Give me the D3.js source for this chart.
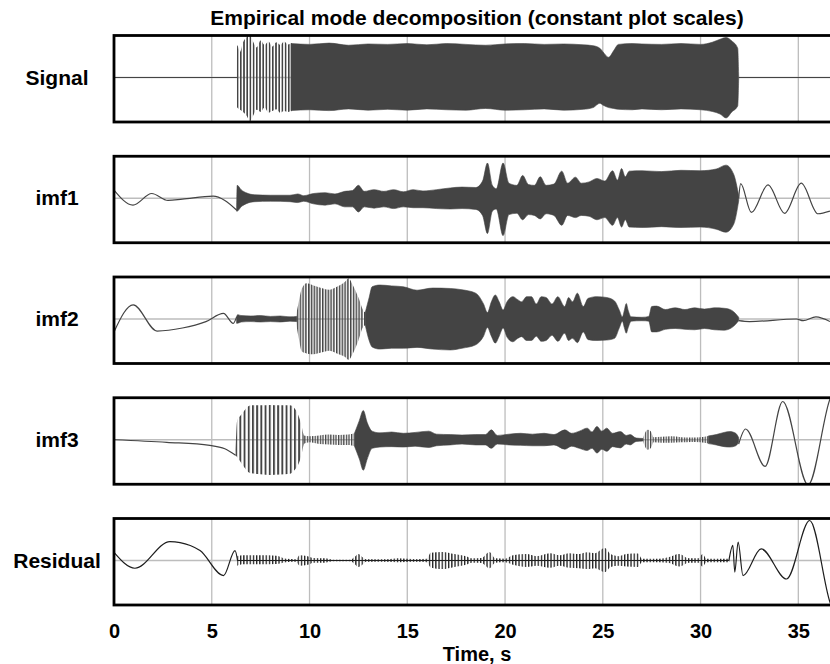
<!DOCTYPE html>
<html>
<head>
<meta charset="utf-8">
<script src="https://cdn.jsdelivr.net/npm/d3@7"></script>
<style>
  body { margin: 0; background: #fff; }
  svg { display: block; font-family: "Liberation Sans", Arial, Helvetica, sans-serif; }
</style>
</head>
<body>
<div class="chart"></div>
<script>
// ---- data (time in s, amplitude on a shared scale, 1 = panel edge) ----
const panelNames = ['Signal', 'imf1', 'imf2', 'imf3', 'Residual']
const timeTicks = [0, 5, 10, 15, 20, 25, 30, 35]

// plain traces: [t, value]
// envelopes of dense oscillation: [t, upper, lower]
const signalFlat1 = [[0, 0], [6.29, 0]]
const signalFlat2 = [[31.95, 0], [36.62, 0]]
const signalOnset = [[6.28, 0.02, -0.02], [6.3, 0.75, -0.7], [6.45, 0.6, -0.75], [6.6, 0.82, -0.8], [6.8, 0.95, -0.9],
  [6.95, 1.02, -1.02], [7.1, 0.85, -0.9], [7.3, 0.7, -0.75], [7.5, 0.86, -0.8], [7.7, 0.76, -0.7], [7.9, 0.84, -0.82],
  [8.1, 0.72, -0.78], [8.3, 0.82, -0.74], [8.5, 0.76, -0.82], [8.7, 0.84, -0.78], [8.9, 0.77, -0.8], [9.1, 0.8, -0.78]]
const signalBody = [[9.05, 0.79, -0.77], [10, 0.77, -0.75], [11, 0.8, -0.77], [12, 0.75, -0.73], [13, 0.78, -0.76],
  [14, 0.77, -0.74], [15, 0.79, -0.76], [16, 0.76, -0.73], [17, 0.79, -0.75], [18, 0.77, -0.76], [19, 0.75, -0.72],
  [20, 0.78, -0.76], [21, 0.79, -0.75], [22, 0.77, -0.73], [23, 0.78, -0.76], [24, 0.76, -0.74], [24.5, 0.74, -0.7],
  [24.85, 0.68, -0.6], [25.0, 0.6, -0.64], [25.3, 0.47, -0.7], [25.55, 0.62, -0.72], [25.8, 0.77, -0.74], [26.5, 0.79, -0.75],
  [27, 0.78, -0.73], [28, 0.77, -0.75], [29, 0.79, -0.73], [30, 0.77, -0.75], [30.6, 0.82, -0.79], [31.0, 0.89, -0.85],
  [31.3, 0.93, -0.94], [31.6, 0.85, -0.8], [31.9, 0.68, -0.66], [31.95, 0.02, -0.02]]

const imf1Lead = [[0, 0.19], [0.97, -0.16], [1.93, 0.11], [2.76, -0.05], [3.5, -0.02], [5.07, 0.05], [5.67, -0.05], [6.28, -0.28]]
const imf1Body = [[6.27, -0.26, -0.3], [6.3, 0.3, -0.3], [6.5, 0.2, -0.2], [6.8, 0.12, -0.12], [7.2, 0.08, -0.08],
  [8, 0.07, -0.07], [9, 0.07, -0.08], [9.4, 0.1, -0.1], [9.7, 0.06, -0.07], [10.2, 0.11, -0.13], [10.8, 0.13, -0.16],
  [11.3, 0.1, -0.13], [11.8, 0.16, -0.2], [12.2, 0.18, -0.2], [12.5, 0.3, -0.32], [12.8, 0.16, -0.2], [13.3, 0.2, -0.23],
  [13.8, 0.16, -0.2], [14.3, 0.2, -0.24], [14.8, 0.15, -0.2], [15.3, 0.2, -0.22], [15.8, 0.17, -0.22], [16.5, 0.2, -0.24],
  [17.2, 0.24, -0.25], [17.8, 0.26, -0.24], [18.5, 0.25, -0.26], [18.85, 0.4, -0.4], [19.1, 0.82, -0.82],
  [19.35, 0.3, -0.3], [19.55, 0.22, -0.25], [19.9, 0.82, -0.87], [20.2, 0.35, -0.38], [20.6, 0.3, -0.35],
  [20.9, 0.53, -0.5], [21.2, 0.32, -0.38], [21.5, 0.3, -0.4], [21.8, 0.5, -0.48], [22.1, 0.3, -0.36], [22.5, 0.33, -0.4],
  [22.9, 0.63, -0.63], [23.2, 0.35, -0.4], [23.6, 0.49, -0.45], [23.9, 0.35, -0.4], [24.3, 0.38, -0.42],
  [24.7, 0.46, -0.5], [25.1, 0.4, -0.45], [25.5, 0.64, -0.63], [25.75, 0.42, -0.45], [25.96, 0.69, -0.67],
  [26.15, 0.5, -0.5], [26.35, 0.63, -0.67], [27, 0.64, -0.68], [28, 0.62, -0.66], [29, 0.65, -0.68], [30, 0.64, -0.67],
  [30.8, 0.68, -0.72], [31.3, 0.77, -0.79], [31.7, 0.55, -0.6], [31.95, 0.06, -0.06]]
const imf1Tail = [[31.95, 0], [32.05, 0.34], [32.6, -0.33], [33.45, 0.31], [34.3, -0.35], [35.15, 0.35], [36.0, -0.36], [36.62, -0.3]]

const imf2Lead = [[0, -0.3], [0.98, 0.33], [2.2, -0.28], [3.5, -0.21], [4.7, -0.06], [5.6, 0.13], [6.1, -0.1], [6.27, 0.05]]
const imf2Band = [[6.27, 0.05, -0.1], [6.32, 0.1, -0.1], [6.5, 0.08, -0.07], [7, 0.07, -0.06], [7.5, 0.08, -0.07],
  [8, 0.06, -0.06], [8.5, 0.07, -0.07], [9, 0.05, -0.05], [9.35, 0.06, -0.06]]
const imf2Burst = [[9.3, 0.06, -0.06], [9.45, 0.4, -0.45], [9.6, 0.7, -0.75], [9.85, 0.83, -0.8], [10.2, 0.78, -0.82],
  [10.6, 0.72, -0.78], [11, 0.68, -0.74], [11.4, 0.75, -0.8], [11.8, 0.86, -0.88], [12.0, 0.95, -0.95],
  [12.2, 0.8, -0.82], [12.5, 0.5, -0.5], [12.75, 0.2, -0.18], [12.9, 0.15, -0.14]]
const imf2Body = [[12.85, 0.15, -0.14], [13.05, 0.5, -0.5], [13.2, 0.75, -0.65], [13.6, 0.79, -0.7], [14.2, 0.77, -0.68],
  [14.8, 0.75, -0.68], [15.5, 0.67, -0.66], [16.3, 0.72, -0.7], [17.2, 0.71, -0.72], [17.8, 0.68, -0.68],
  [18.5, 0.6, -0.6], [18.9, 0.35, -0.4], [19.1, 0.15, -0.2], [19.3, 0.4, -0.4], [19.5, 0.56, -0.56], [19.7, 0.4, -0.4],
  [19.9, 0.21, -0.21], [20.1, 0.4, -0.42], [20.4, 0.52, -0.53], [20.65, 0.45, -0.45], [20.85, 0.4, -0.41],
  [21.1, 0.52, -0.5], [21.35, 0.52, -0.5], [21.6, 0.35, -0.4], [21.85, 0.52, -0.52], [22.1, 0.5, -0.5],
  [22.4, 0.35, -0.38], [22.7, 0.52, -0.52], [23.05, 0.29, -0.33], [23.25, 0.5, -0.5], [23.45, 0.4, -0.45],
  [23.7, 0.6, -0.55], [24.0, 0.29, -0.3], [24.25, 0.48, -0.48], [24.7, 0.52, -0.5], [25.2, 0.5, -0.49],
  [25.6, 0.42, -0.45], [25.85, 0.2, -0.2], [26.0, 0.05, -0.05], [26.1, 0.2, -0.2], [26.2, 0.36, -0.33],
  [26.3, 0.2, -0.2], [26.45, 0.05, -0.05], [27.0, 0.04, -0.04], [27.35, 0.06, -0.05], [27.5, 0.29, -0.3],
  [27.75, 0.3, -0.3], [28.2, 0.22, -0.24], [28.7, 0.26, -0.22], [29.2, 0.22, -0.24], [29.7, 0.26, -0.25],
  [30.2, 0.23, -0.22], [30.7, 0.26, -0.25], [31.2, 0.25, -0.26], [31.6, 0.2, -0.2], [31.95, 0.04, -0.04]]
const imf2Tail = [[31.95, -0.04], [32.5, -0.06], [34.9, 0.0], [35.25, -0.04], [35.9, 0.05], [36.62, -0.06]]

const imf3Lead = [[0, 0], [2.7, -0.06], [4.9, -0.13], [5.67, -0.21], [6.22, -0.36]]
const imf3Burst = [[6.22, -0.3, -0.38], [6.3, 0.45, -0.4], [6.45, 0.55, -0.5], [6.6, 0.64, -0.6], [6.8, 0.75, -0.72],
  [7.0, 0.8, -0.78], [7.5, 0.8, -0.8], [8, 0.81, -0.82], [8.5, 0.8, -0.81], [9, 0.8, -0.79], [9.2, 0.75, -0.72],
  [9.4, 0.6, -0.6], [9.55, 0.4, -0.42], [9.7, 0.1, -0.1]]
const imf3Ripple = [[9.7, 0.1, -0.1], [10, 0.08, -0.06], [10.5, 0.1, -0.1], [11, 0.12, -0.11], [11.5, 0.11, -0.12],
  [12.0, 0.12, -0.12], [12.3, 0.15, -0.15]]
const imf3Body = [[12.3, 0.15, -0.15], [12.55, 0.45, -0.45], [12.75, 0.68, -0.71], [12.95, 0.4, -0.45], [13.2, 0.2, -0.2],
  [13.6, 0.16, -0.17], [14.2, 0.18, -0.16], [14.8, 0.15, -0.17], [15.4, 0.17, -0.15], [16.1, 0.2, -0.18],
  [16.5, 0.13, -0.14], [17.2, 0.12, -0.12], [17.8, 0.11, -0.1], [18.5, 0.12, -0.12], [19.0, 0.12, -0.12],
  [19.3, 0.23, -0.2], [19.6, 0.1, -0.1], [20.2, 0.13, -0.12], [20.8, 0.15, -0.13], [21.4, 0.13, -0.14],
  [22.0, 0.15, -0.14], [22.5, 0.12, -0.12], [23.06, 0.23, -0.22], [23.4, 0.15, -0.15], [23.8, 0.2, -0.2],
  [24.2, 0.27, -0.25], [24.45, 0.18, -0.2], [24.7, 0.31, -0.31], [24.95, 0.2, -0.22], [25.2, 0.27, -0.27],
  [25.5, 0.15, -0.16], [25.9, 0.19, -0.19], [26.2, 0.1, -0.1], [26.4, 0.12, -0.12], [26.7, 0.04, -0.04], [27.05, 0.03, -0.03]]
const imf3Burst2 = [[27.05, 0.03, -0.03], [27.15, 0.15, -0.15], [27.3, 0.23, -0.23], [27.45, 0.2, -0.2], [27.6, 0.06, -0.06],
  [28, 0.07, -0.07], [28.5, 0.08, -0.07], [29, 0.06, -0.06], [29.5, 0.05, -0.05], [30.0, 0.06, -0.06], [30.4, 0.09, -0.09]]
const imf3End = [[30.4, 0.09, -0.09], [30.8, 0.12, -0.12], [31.2, 0.17, -0.16], [31.5, 0.19, -0.17], [31.8, 0.15, -0.14],
  [31.95, 0.05, -0.05]]
const imf3Tail = [[31.95, -0.1], [32.3, 0.25], [33.3, -0.62], [34.2, 0.89], [35.5, -1.05], [36.62, 0.95], [37.0, 1.3]]

const resLead = [[0, 0.19], [1.07, -0.18], [2.86, 0.44], [3.9, 0.35], [4.4, 0.23], [5.6, -0.35], [6.19, 0.23], [6.32, 0]]
const resMid = [[6.3, 0], [31.45, 0]]
const resBody = [[6.3, 0.1, -0.12], [6.6, 0.12, -0.09], [7.5, 0.12, -0.09], [8.3, 0.11, -0.08], [8.8, 0.04, -0.04],
  [9.3, 0.03, -0.03], [9.5, 0.12, -0.12], [9.9, 0.1, -0.1], [10.2, 0.06, -0.05], [10.8, 0.05, -0.05], [11.2, 0.02, -0.02],
  [12.1, 0.02, -0.02], [12.3, 0.08, -0.08], [12.5, 0.15, -0.15], [12.7, 0.08, -0.1], [12.9, 0.03, -0.03],
  [14, 0.03, -0.03], [14.5, 0.05, -0.04], [15.5, 0.03, -0.03], [16.0, 0.04, -0.04], [16.2, 0.18, -0.16],
  [16.8, 0.2, -0.2], [17.4, 0.15, -0.15], [18.0, 0.1, -0.1], [18.3, 0.05, -0.05], [18.8, 0.06, -0.06],
  [19.2, 0.2, -0.18], [19.5, 0.05, -0.05], [20, 0.04, -0.04], [20.4, 0.12, -0.1], [21.1, 0.15, -0.15],
  [21.6, 0.1, -0.12], [22.3, 0.17, -0.17], [22.8, 0.12, -0.12], [23.3, 0.17, -0.17], [23.8, 0.15, -0.18],
  [24.2, 0.19, -0.2], [24.6, 0.17, -0.18], [25.1, 0.29, -0.27], [25.4, 0.15, -0.15], [25.8, 0.1, -0.12],
  [26.2, 0.15, -0.14], [26.8, 0.16, -0.15], [27.0, 0.04, -0.04], [27.9, 0.04, -0.04], [28.4, 0.08, -0.06],
  [28.9, 0.15, -0.14], [29.4, 0.05, -0.05], [29.9, 0.05, -0.05], [30.1, 0.15, -0.14], [30.3, 0.04, -0.04],
  [31.4, 0.04, -0.04], [31.5, 0.02, -0.02]]
const resTail = [[31.45, 0], [31.65, 0.35], [31.75, -0.27], [31.92, 0.43], [32.17, -0.35], [33.1, 0.27], [34.4, -0.43],
  [35.58, 0.93], [36.62, -0.97], [37.0, -1.4]]

// ---- layout ----
const width = 830
const height = 664
const left = 114
const panelTop = 35.5
const panelStep = 120.75
const panelH = 86.5
const half = 43

const ink = '#444'
const resInk = '#1e1e1e'

const svg = d3.select('.chart')
  .append('svg')
  .attr('width', width)
  .attr('height', height)

const x = d3.scaleLinear()
  .domain([0, 36.62])
  .range([left, width])

const defs = svg.append('defs')

// vertical hatching stands in for oscillations that are resolved but tightly packed
function hatch(id, step, w, color) {
  const p = defs.append('pattern')
    .attr('id', id)
    .attr('patternUnits', 'userSpaceOnUse')
    .attr('width', step)
    .attr('height', 10)
  p.append('rect')
    .attr('width', w)
    .attr('height', 10)
    .attr('fill', color)
}
hatch('hSig', 3.2, 1.6, ink)
hatch('hImf2', 2.8, 1.5, ink)
hatch('hImf3', 4.2, 1.9, ink)
hatch('hFine', 2.6, 1.3, ink)
hatch('hRes', 3.2, 1.3, resInk)

const panels = [
  {lines: [signalFlat1, signalFlat2], bands: [[signalOnset, 'url(#hSig)'], [signalBody, ink]], color: ink},
  {lines: [imf1Lead, imf1Tail], bands: [[imf1Body, ink]], color: ink},
  {lines: [imf2Lead, imf2Tail], bands: [[imf2Band, ink], [imf2Burst, 'url(#hImf2)'], [imf2Body, ink]], color: ink},
  {lines: [imf3Lead, imf3Tail], bands: [[imf3Burst, 'url(#hImf3)'], [imf3Ripple, 'url(#hFine)'], [imf3Body, ink],
    [imf3Burst2, 'url(#hFine)'], [imf3End, ink]], color: ink},
  {lines: [resLead, resMid, resTail], bands: [[resBody, 'url(#hRes)']], color: resInk}
]

// title
svg.append('text')
  .attr('x', 477)
  .attr('y', 25)
  .attr('text-anchor', 'middle')
  .style('font-weight', 'bold')
  .style('font-size', '21px')
  .text('Empirical mode decomposition (constant plot scales)')

panels.forEach((p, i) => {
  const top = panelTop + i * panelStep
  const mid = top + 42
  const y = d3.scaleLinear().domain([-1, 1]).range([mid + half, mid - half])

  const g = svg.append('g').attr('class', 'panel')

  defs.append('clipPath')
    .attr('id', 'clip' + i)
    .append('rect')
    .attr('x', left)
    .attr('y', top)
    .attr('width', width - left + 5)
    .attr('height', panelH)

  const inner = g.append('g').attr('clip-path', 'url(#clip' + i + ')')

  // grid
  inner.selectAll('line.vgrid')
    .data(timeTicks.slice(1))
    .enter().append('line')
      .attr('class', 'vgrid')
      .attr('x1', d => x(d))
      .attr('x2', d => x(d))
      .attr('y1', top)
      .attr('y2', top + panelH)
      .attr('stroke', '#bdbdbd')
      .attr('stroke-width', 1.3)

  inner.append('line')
    .attr('x1', left)
    .attr('x2', width)
    .attr('y1', y(0))
    .attr('y2', y(0))
    .attr('stroke', '#bdbdbd')
    .attr('stroke-width', 1.3)

  const area = d3.area()
    .x(d => x(d[0]))
    .y0(d => y(d[2]))
    .y1(d => y(d[1]))
    .curve(d3.curveMonotoneX)

  const line = d3.line()
    .x(d => x(d[0]))
    .y(d => y(d[1]))
    .curve(d3.curveMonotoneX)

  p.lines.forEach(l => {
    inner.append('path')
      .attr('d', line(l))
      .attr('fill', 'none')
      .attr('stroke', p.color)
      .attr('stroke-width', 1.2)
  })

  p.bands.forEach(([b, fill]) => {
    const solid = fill.indexOf('url') !== 0
    inner.append('path')
      .attr('d', area(b))
      .attr('fill', fill)
      .attr('stroke', solid ? fill : 'none')
      .attr('stroke-width', solid ? 0.6 : 0)
  })

  // frame
  g.append('rect')
    .attr('x', left)
    .attr('y', top)
    .attr('width', width - left + 10)
    .attr('height', panelH)
    .attr('fill', 'none')
    .attr('stroke', '#000')
    .attr('stroke-width', 2.8)

  svg.append('text')
    .attr('x', 57)
    .attr('y', mid + 7)
    .attr('text-anchor', 'middle')
    .style('font-weight', 'bold')
    .style('font-size', '21px')
    .text(panelNames[i])
})

// time axis under the last panel
const axis = d3.axisBottom(x)
  .tickValues(timeTicks)
  .tickSize(0)
  .tickPadding(0)
  .tickFormat(d3.format('d'))

const ax = svg.append('g')
  .attr('transform', 'translate(0, 624)')
  .call(axis)

ax.select('.domain').remove()
ax.selectAll('text')
  .attr('fill', '#000')
  .style('font-family', '"Liberation Sans", Arial, sans-serif')
  .style('font-weight', 'bold')
  .style('font-size', '20px')

svg.append('text')
  .attr('x', 477)
  .attr('y', 661)
  .attr('text-anchor', 'middle')
  .style('font-weight', 'bold')
  .style('font-size', '20px')
  .text('Time, s')
</script>
</body>
</html>
